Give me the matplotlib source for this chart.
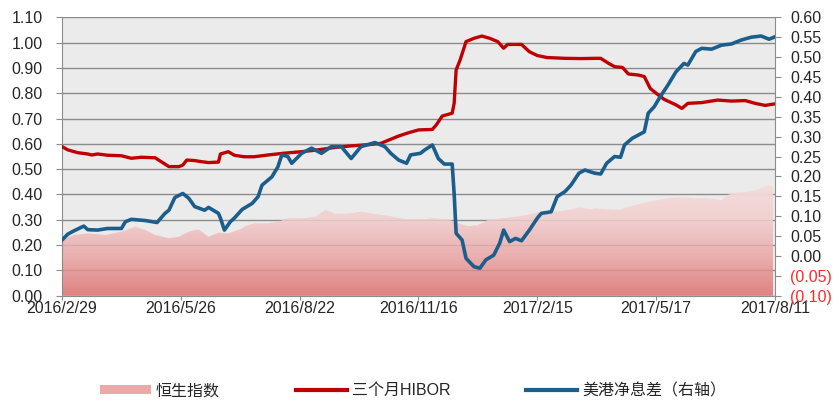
import matplotlib.pyplot as plt
import numpy as np
from matplotlib.lines import Line2D
from matplotlib.patches import Patch
from matplotlib.ticker import FuncFormatter

# x axis: trading-day index, 2016/2/29 -> 2017/8/11
tick_pos = [0, 60, 120, 180, 240, 300, 360]
tick_labels = ["2016/2/29", "2016/5/26", "2016/8/22", "2016/11/16",
               "2017/2/15", "2017/5/17", "2017/8/11"]

# 三个月HIBOR (left axis)
hibor_x = [0, 3, 8, 13, 15, 18, 23, 30, 35, 40, 47, 50, 54, 59, 61, 63, 67, 70,
           74, 79, 80, 84, 87, 92, 97, 104, 112, 121, 129, 138, 146, 155, 161,
           165, 170, 175, 180, 187, 189, 192, 197, 198, 199, 201, 204, 208, 212,
           216, 220, 223, 225, 232, 236, 240, 245, 254, 262, 269, 272, 276, 279,
           283, 286, 291, 294, 297, 300, 304, 310, 313, 316, 323, 331, 338, 345,
           350, 355, 360]
hibor = [0.589, 0.576, 0.565, 0.560, 0.556, 0.560, 0.555, 0.553, 0.543, 0.547,
         0.545, 0.530, 0.510, 0.510, 0.516, 0.536, 0.534, 0.530, 0.526, 0.528,
         0.560, 0.569, 0.555, 0.549, 0.549, 0.556, 0.563, 0.569, 0.576, 0.586,
         0.592, 0.597, 0.602, 0.615, 0.631, 0.644, 0.655, 0.657, 0.675, 0.710,
         0.721, 0.760, 0.892, 0.931, 1.004, 1.017, 1.026, 1.017, 1.004, 0.978,
         0.993, 0.993, 0.964, 0.949, 0.941, 0.938, 0.937, 0.938, 0.938, 0.918,
         0.905, 0.902, 0.876, 0.872, 0.866, 0.819, 0.800, 0.776, 0.754, 0.740,
         0.760, 0.763, 0.773, 0.769, 0.771, 0.760, 0.752, 0.758]

# 美港净息差 (right axis)
spread_x = [0, 3, 6, 11, 13, 18, 23, 30, 32, 35, 42, 48, 52, 54, 57, 61, 64, 67,
            72, 74, 79, 80, 82, 85, 87, 91, 96, 99, 101, 106, 109, 111, 114, 116,
            121, 126, 131, 136, 141, 146, 151, 158, 163, 166, 170, 174, 176, 181,
            183, 187, 190, 193, 197, 198, 199, 202, 204, 208, 211, 214, 218, 221,
            223, 226, 229, 232, 236, 240, 242, 247, 250, 254, 257, 261, 264, 269,
            272, 275, 279, 282, 284, 288, 291, 294, 296, 299, 302, 306, 310, 314,
            316, 320, 323, 328, 333, 338, 343, 348, 353, 357, 360]
spread = [0.040, 0.055, 0.063, 0.075, 0.066, 0.065, 0.069, 0.069, 0.086, 0.092,
          0.089, 0.084, 0.107, 0.115, 0.147, 0.157, 0.145, 0.124, 0.115, 0.122,
          0.107, 0.095, 0.065, 0.086, 0.095, 0.117, 0.132, 0.149, 0.178, 0.199,
          0.224, 0.254, 0.250, 0.233, 0.258, 0.271, 0.258, 0.275, 0.275, 0.245,
          0.275, 0.285, 0.275, 0.258, 0.241, 0.233, 0.254, 0.258, 0.266, 0.279,
          0.245, 0.231, 0.231, 0.157, 0.057, 0.040, -0.006, -0.027, -0.031,
          -0.010, 0.002, 0.032, 0.065, 0.036, 0.044, 0.038, 0.065, 0.095, 0.107,
          0.111, 0.149, 0.162, 0.178, 0.208, 0.216, 0.208, 0.206, 0.233, 0.250,
          0.248, 0.279, 0.296, 0.304, 0.312, 0.359, 0.375, 0.400, 0.430, 0.463,
          0.484, 0.480, 0.514, 0.522, 0.520, 0.530, 0.533, 0.543, 0.550, 0.553,
          0.545, 0.551]

# 恒生指数 (scaled, left axis)
hsi_x = [0, 6, 13, 22, 30, 37, 42, 47, 54, 59, 64, 69, 74, 79, 84, 91, 92, 97,
         104, 109, 114, 121, 128, 133, 138, 145, 151, 158, 165, 171, 178, 187,
         195, 200, 205, 210, 215, 222, 229, 235, 242, 249, 256, 261, 267, 269,
         276, 281, 286, 293, 299, 306, 313, 320, 326, 333, 336, 340, 347, 353,
         357, 359]
hsi = [0.220, 0.240, 0.246, 0.240, 0.253, 0.273, 0.260, 0.240, 0.227, 0.233,
       0.253, 0.262, 0.233, 0.249, 0.246, 0.266, 0.273, 0.286, 0.286, 0.292,
       0.306, 0.306, 0.312, 0.339, 0.323, 0.325, 0.332, 0.323, 0.315, 0.306,
       0.299, 0.306, 0.302, 0.286, 0.275, 0.279, 0.299, 0.306, 0.312, 0.319,
       0.332, 0.332, 0.339, 0.349, 0.341, 0.345, 0.341, 0.339, 0.352, 0.365,
       0.375, 0.385, 0.389, 0.385, 0.385, 0.378, 0.398, 0.407, 0.411, 0.424,
       0.437, 0.431]

RED = "#c00000"
BLUE = "#1b5e8c"
TXT = "#262626"

plt.rcParams["font.family"] = ["Liberation Sans", "Noto Sans CJK SC"]

fig = plt.figure(figsize=(8.39, 4.03), dpi=100)
ax = fig.add_axes([0.0739, 0.2663, 0.8498, 0.6907])
ax.set_facecolor("#ebebeb")

# gradient area for the index
top = 0.46
stops_v = [0.0, 0.15, 0.30, 0.46]
stops_c = np.array([[222, 100, 100], [234, 160, 160], [242, 204, 204],
                    [246, 224, 224]]) / 255.0
yy = np.linspace(0, top, 200)
grad = np.zeros((200, 1, 4))
for k in range(3):
    grad[:, 0, k] = np.interp(yy, stops_v, stops_c[:, k])
grad[:, 0, 3] = np.interp(yy, [0, 0.3, top], [0.78, 0.86, 0.97])
poly = ax.fill_between(hsi_x, 0, hsi, color="none", lw=0)
img = ax.imshow(grad, extent=[0, 360, 0, top], origin="lower",
                aspect="auto", zorder=1, interpolation="bilinear")
img.set_clip_path(poly.get_paths()[0], transform=ax.transData)

ax.plot(hibor_x, hibor, color=RED, lw=2.4, zorder=3)

ax.set_xlim(0, 360)
ax.set_ylim(0, 1.1)
ax.set_yticks(np.arange(0, 1.11, 0.1))
ax.yaxis.set_major_formatter(FuncFormatter(lambda v, p: f"{v:.2f}"))
ax.set_xticks(tick_pos)
ax.set_xticklabels(tick_labels)
ax.grid(axis="y", color="#8c8c8c", lw=1.0)
ax.set_axisbelow(True)
ax.tick_params(axis="y", length=4, pad=10, labelsize=11.5, colors="#8c8c8c",
               labelcolor=TXT)
ax.tick_params(axis="x", length=3, pad=0.5, labelsize=11.5, colors="#8c8c8c",
               labelcolor=TXT)
for s in ["top", "right"]:
    ax.spines[s].set_visible(False)
for s in ["left", "bottom"]:
    ax.spines[s].set_color("#8c8c8c")

ax2 = ax.twinx()
ax2.plot(spread_x, spread, color=BLUE, lw=2.6, zorder=4)
ax2.set_ylim(-0.10, 0.60)
ax2.set_yticks(np.arange(-0.10, 0.601, 0.05))


def paren(v, p):
    if v < -1e-9:
        return f"({abs(v):.2f})"
    return f"{abs(v):.2f}"


ax2.yaxis.set_major_formatter(FuncFormatter(paren))
ax2.tick_params(axis="y", length=4, pad=7, labelsize=11.5, colors="#8c8c8c",
                labelcolor=TXT)
for lab, v in zip(ax2.get_yticklabels(), ax2.get_yticks()):
    if v < -1e-9:
        lab.set_color("#ff2a2a")
for s in ["top", "left", "bottom"]:
    ax2.spines[s].set_visible(False)
ax2.spines["right"].set_color("#8c8c8c")

# legend below the plot
handles = [Patch(facecolor="#eba9a9", edgecolor="none"),
           Line2D([], [], color=RED, lw=3),
           Line2D([], [], color=BLUE, lw=3)]
labels = ["恒生指数", "三个月HIBOR", "美港净息差（右轴）"]
fig.legend(handles, labels, loc="center left", bbox_to_anchor=(0.1192, 0.031),
           ncol=3, frameon=False, fontsize=11.5, handlelength=3.2,
           handleheight=0.5, handletextpad=0.3, columnspacing=4.75,
           borderpad=0, borderaxespad=0, labelcolor=TXT)

fig.savefig("out.png", dpi=100)
